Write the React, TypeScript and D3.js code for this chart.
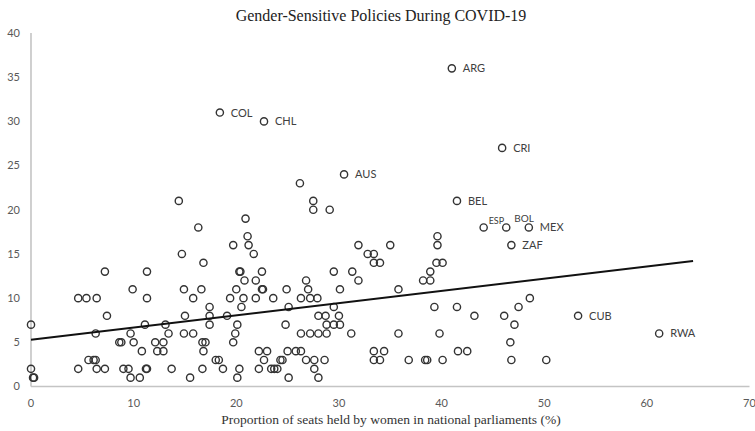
import React from "react";
import * as d3 from "d3";

const W = 755;
const H = 431;

// Unlabelled countries: [women in parliament %, gender-sensitive policies]
const pointX: number[] = [
  14.7, 7.2, 11.3, 4.6, 5.4, 6.4, 9.9, 11.3, 14.9, 15.8, 0, 7.4, 6.3, 9.7, 11.1, 13.1, 13.4, 15.0, 14.9, 15.8,
  8.6, 8.8, 10.0, 12.1, 12.9, 10.8, 12.3, 12.9, 5.6, 6.1, 6.3, 0, 0.2, 0.3, 4.6, 6.4, 7.2, 9.0, 9.5, 11.2,
  11.3, 13.7, 9.7, 10.6, 15.5,
  16.8, 20.3, 20.4, 22.5, 20.8, 21.9, 22.5, 22.6, 16.6, 20.0, 19.4, 20.7, 21.9, 23.6, 24.9, 26.8, 27.0, 29.5, 31.3, 31.9,
  30.1, 26.3, 27.2, 27.9, 17.4, 20.5, 25.1, 29.5, 17.4, 19.1, 28.0, 28.7, 30.0, 17.4, 20.1, 24.8, 28.8, 29.5, 30.1,
  19.9, 26.3, 27.2, 28.0, 28.8, 31.2, 16.7, 17.0, 19.7, 16.8, 22.2, 23.0, 25.0, 25.8, 26.3, 18.0, 18.3, 22.7, 24.3,
  24.5, 26.8, 27.6, 28.6, 16.7, 18.7, 20.3, 22.2, 23.4, 23.7, 24.0, 27.6, 20.1, 25.1, 28.0,
  32.8, 33.4, 33.4, 34.0, 35.8, 39.5, 40.1, 38.9, 38.2, 38.9, 39.3, 41.5, 43.2, 46.1, 47.5, 48.6, 47.1, 35.8, 39.8,
  46.7, 33.4, 34.4, 41.6, 42.5, 33.4, 34.0, 36.8, 38.4, 38.6, 40.1, 46.8, 50.2,
  26.2, 14.4, 27.5, 27.5, 29.1, 16.3, 20.9, 21.1, 19.7, 21.2, 21.7, 31.9, 39.6, 39.6, 35.0,
];
const pointY: number[] = [
  15, 13, 13, 10, 10, 10, 11, 10, 11, 10, 7, 8, 6, 6, 7, 7, 6, 8, 6, 6,
  5, 5, 5, 5, 5, 4, 4, 4, 3, 3, 3, 2, 1, 1, 2, 2, 2, 2, 2, 2,
  2, 2, 1, 1, 1,
  14, 13, 13, 13, 12, 12, 11, 11, 11, 11, 10, 10, 10, 10, 11, 12, 11, 13, 13, 12,
  11, 10, 10, 10, 9, 9, 9, 9, 8, 8, 8, 8, 8, 7, 7, 7, 7, 7, 7,
  6, 6, 6, 6, 6, 6, 5, 5, 5, 4, 4, 4, 4, 4, 4, 3, 3, 3, 3,
  3, 3, 3, 3, 2, 2, 2, 2, 2, 2, 2, 2, 1, 1, 1,
  15, 15, 14, 14, 11, 14, 14, 13, 12, 12, 9, 9, 8, 8, 9, 10, 7, 6, 6,
  5, 4, 4, 4, 4, 3, 3, 3, 3, 3, 3, 3, 3,
  23, 21, 21, 20, 20, 18, 19, 17, 16, 16, 15, 16, 17, 16, 16,
];

// Labelled countries
const labelCodes: string[] = ["ARG", "COL", "CHL", "CRI", "AUS", "BEL", "ESP", "BOL", "MEX", "ZAF", "CUB", "RWA"];
const labelX: number[] = [41.0, 18.4, 22.7, 45.9, 30.5, 41.5, 44.1, 46.3, 48.5, 46.8, 53.3, 61.2];
const labelY: number[] = [36, 31, 30, 27, 24, 21, 18, 18, 18, 16, 8, 6];

// Linear trend line
const trendX: number[] = [0, 64.5];
const trendY: number[] = [5.3, 14.2];

const xTicks: number[] = [0, 10, 20, 30, 40, 50, 60, 70];
const yTicks: number[] = [0, 5, 10, 15, 20, 25, 30, 35, 40];

const title = "Gender-Sensitive Policies During COVID-19";
const xTitle = "Proportion of seats held by women in national parliaments (%)";

export default function App() {
  const x = d3.scaleLinear().domain([0, 70]).range([31, 749.5]);
  const y = d3.scaleLinear().domain([0, 40]).range([386.5, 33]);

  const points = pointX.map((v, i) => ({ x: v, y: pointY[i] }));
  const labelled = labelCodes.map((c, i) => ({ code: c, x: labelX[i], y: labelY[i] }));
  const trend = trendX.map((v, i) => [v, trendY[i]] as [number, number]);
  const line = d3
    .line<[number, number]>()
    .x((d) => x(d[0]))
    .y((d) => y(d[1]));

  const labelOffset = (code: string) => {
    if (code === "ESP") return { dx: 5, dy: -3.5, size: 9 };
    if (code === "BOL") return { dx: 8, dy: -5.5, size: 10 };
    return { dx: 11, dy: 4, size: 11 };
  };

  const tickFont = "Lato, 'Liberation Sans', sans-serif";

  return (
    <svg
      width={W}
      height={H}
      style={{ position: "absolute", left: 0, top: 0, background: "#fff" }}
    >
      <rect x={0} y={0} width={W} height={H} fill="#fff" />
      <text
        x={381}
        y={21}
        textAnchor="middle"
        fontFamily="'Liberation Serif', 'Times New Roman', serif"
        fontSize={16}
        fill="#222"
      >
        {title}
      </text>

      {/* axes */}
      <line x1={x(0)} x2={x(0)} y1={y(40)} y2={y(0)} stroke="#c4c4c4" strokeWidth={1.6} />
      <line x1={x(0)} x2={x(70)} y1={y(0)} y2={y(0)} stroke="#c4c4c4" strokeWidth={1.6} />

      {yTicks.map((t) => (
        <text
          key={"y" + t}
          x={20}
          y={y(t)}
          dy="0.35em"
          textAnchor="end"
          fontFamily={tickFont}
          fontSize={11}
          fill="#595959"
        >
          {t}
        </text>
      ))}
      {xTicks.map((t) => (
        <text
          key={"x" + t}
          x={x(t)}
          y={403}
          dy="0.35em"
          textAnchor="middle"
          fontFamily={tickFont}
          fontSize={11}
          fill="#595959"
        >
          {t}
        </text>
      ))}

      <text
        x={391}
        y={424}
        textAnchor="middle"
        fontFamily="'Liberation Serif', 'Times New Roman', serif"
        fontSize={13.5}
        fill="#333"
      >
        {xTitle}
      </text>

      {/* points */}
      {points.map((p, i) => (
        <circle
          key={"p" + i}
          cx={x(p.x)}
          cy={y(p.y)}
          r={3.6}
          fill="none"
          stroke="#333"
          strokeWidth={1.4}
        />
      ))}
      {labelled.map((p) => {
        const o = labelOffset(p.code);
        return (
          <g key={p.code}>
            <circle cx={x(p.x)} cy={y(p.y)} r={3.6} fill="none" stroke="#333" strokeWidth={1.4} />
            <text
              x={x(p.x) + o.dx}
              y={y(p.y) + o.dy}
              fontFamily={tickFont}
              fontSize={o.size}
              fill="#404040"
            >
              {p.code}
            </text>
          </g>
        );
      })}

      {/* trend line */}
      <path d={line(trend) || ""} fill="none" stroke="#111" strokeWidth={2} />
    </svg>
  );
}
